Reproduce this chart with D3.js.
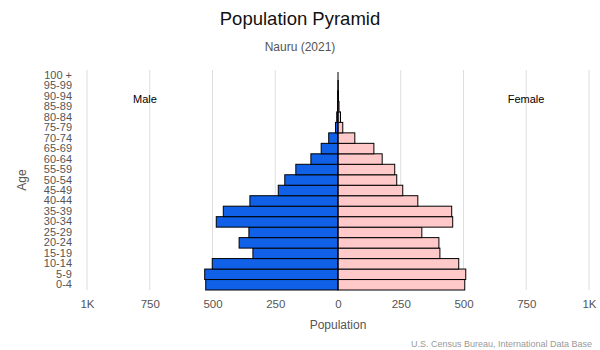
<!DOCTYPE html>
<html><head><meta charset="utf-8">
<script src="https://cdn.jsdelivr.net/npm/d3@7"></script>
<style>body{margin:0;background:#fff}svg{display:block;font-family:"Liberation Sans",Arial,sans-serif}</style>
</head><body><svg id="c" width="600" height="350"></svg>
<script>
const ages = ["0-4","5-9","10-14","15-19","20-24","25-29","30-34","35-39","40-44","45-49","50-54","55-59","60-64","65-69","70-74","75-79","80-84","85-89","90-94","95-99","100 +"];
const male = [527,531,501,339,394,355,485,457,351,238,212,168,108,67,37,10,5,2,1,0,0];
const female = [505,509,481,406,402,334,457,453,318,258,234,226,176,143,67,19,10,4,2,1,0];
const xTicks = [-1000,-750,-500,-250,0,250,500,750,1000];
const xTickLabels = ["1K","750","500","250","0","250","500","750","1K"];

const svg = d3.select("#c");
const x = d3.scaleLinear().domain([-1000,1000]).range([87,589]);
const y = d3.scaleBand().domain(ages.slice().reverse()).range([70,290]).padding(0);

// gridlines
svg.append("g").selectAll("line").data(xTicks.filter(d=>d!==0)).join("line")
  .attr("x1",d=>x(d)).attr("x2",d=>x(d)).attr("y1",70).attr("y2",290)
  .attr("stroke","#dedede").attr("stroke-width",1);

// bars
svg.append("g").selectAll("rect").data(ages.map((a,i)=>({a,v:male[i]}))).join("rect")
  .attr("x",d=>x(-d.v)).attr("width",d=>x(0)-x(-d.v))
  .attr("y",d=>y(d.a)).attr("height",y.bandwidth())
  .attr("fill","#1061e8").attr("stroke","#000").attr("stroke-width",1);
svg.append("g").selectAll("rect").data(ages.map((a,i)=>({a,v:female[i]}))).join("rect")
  .attr("x",x(0)).attr("width",d=>x(d.v)-x(0))
  .attr("y",d=>y(d.a)).attr("height",y.bandwidth())
  .attr("fill","#ffc8c9").attr("stroke","#000").attr("stroke-width",1);
svg.append("line").attr("x1",x(0)).attr("x2",x(0)).attr("y1",72).attr("y2",290)
  .attr("stroke","#000").attr("stroke-width",1);

// y axis labels
const yAxis = d3.axisLeft(y).tickSize(0).tickPadding(0);
const gy = svg.append("g").attr("transform","translate(72,0)").call(yAxis);
gy.select(".domain").remove();
gy.selectAll("text").attr("font-size",11).attr("fill","#555").attr("font-family","Liberation Sans, Arial, sans-serif");

// x axis labels
const xAxis = d3.axisBottom(x).tickValues(xTicks).tickFormat((d,i)=>xTickLabels[i]).tickSize(0).tickPadding(0);
const gx = svg.append("g").attr("transform","translate(0,300)").call(xAxis);
gx.select(".domain").remove();
gx.selectAll("text").attr("font-size",11.5).attr("fill","#555").attr("font-family","Liberation Sans, Arial, sans-serif");

// texts
svg.append("text").attr("x",300).attr("y",25).attr("text-anchor","middle").attr("font-size",18.5).attr("fill","#111").text("Population Pyramid");
svg.append("text").attr("x",300).attr("y",51).attr("text-anchor","middle").attr("font-size",12).attr("fill","#555").text("Nauru (2021)");
svg.append("text").attr("x",145).attr("y",103).attr("text-anchor","middle").attr("font-size",11).attr("fill","#000").text("Male");
svg.append("text").attr("x",526).attr("y",103).attr("text-anchor","middle").attr("font-size",11).attr("fill","#000").text("Female");
svg.append("text").attr("transform","translate(26,180) rotate(-90)").attr("text-anchor","middle").attr("font-size",12).attr("fill","#555").text("Age");
svg.append("text").attr("x",338).attr("y",329).attr("text-anchor","middle").attr("font-size",12).attr("fill","#555").text("Population");
svg.append("text").attr("x",592).attr("y",347).attr("text-anchor","end").attr("font-size",9).attr("fill","#999").text("U.S. Census Bureau, International Data Base");
</script></body></html>
